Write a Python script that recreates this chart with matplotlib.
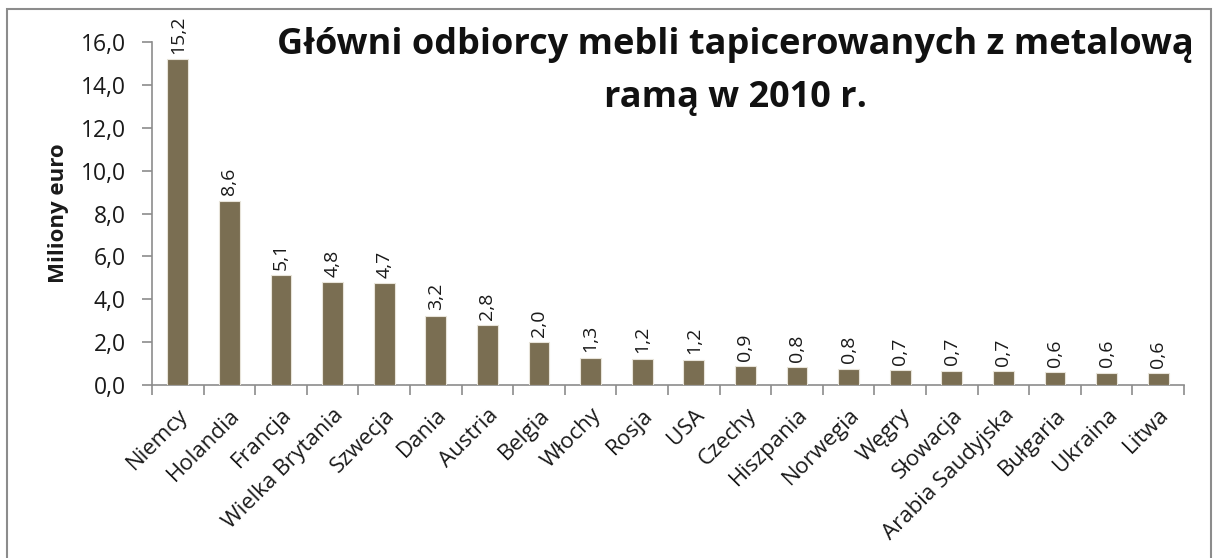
import matplotlib
matplotlib.use("Agg")
import matplotlib.pyplot as plt
from matplotlib.patches import Rectangle
import numpy as np

countries = ["Niemcy", "Holandia", "Francja", "Wielka Brytania", "Szwecja", "Dania",
             "Austria", "Belgia", "Włochy", "Rosja", "USA", "Czechy", "Hiszpania",
             "Norwegia", "Węgry", "Słowacja", "Arabia Saudyjska", "Bułgaria",
             "Ukraina", "Litwa"]
values = [15.2, 8.6, 5.13, 4.8, 4.74, 3.24, 2.8, 2.0, 1.28, 1.22, 1.18, 0.87, 0.82,
          0.76, 0.7, 0.66, 0.65, 0.6, 0.58, 0.56]
yticks = [0, 2, 4, 6, 8, 10, 12, 14, 16]

title_lines = ["Główni odbiorcy mebli tapicerowanych z metalową", "ramą w 2010 r."]
ylabel = "Miliony euro"

font = "Open Sans"
W, H = 1213, 558
fig = plt.figure(figsize=(W / 100, H / 100), dpi=100)
fig.patch.set_facecolor("white")

# chart border
fig.add_artist(Rectangle((7 / W, -0.05), (1211 - 7) / W, 1.05 - 9 / H,
                         transform=fig.transFigure, fill=False,
                         edgecolor="#8c8c8c", linewidth=1.5))

left, right = 152 / W, 1184 / W
bottom, top = 1 - 385 / H, 1 - 42 / H
ax = fig.add_axes([left, bottom, right - left, top - bottom])

x = np.arange(len(countries))
ax.bar(x, values, width=0.4, color="#7a6e52", edgecolor="#e8e4da", linewidth=0.8, zorder=3)

for xi, v in zip(x, values):
    ax.text(xi, v + 0.25, f"{v:.1f}".replace(".", ","), rotation=90, ha="center",
            va="bottom", fontsize=14, family=font, color="#1a1a1a")

ax.set_xlim(-0.5, len(countries) - 0.5)
ax.set_ylim(0, 16)
ax.set_yticks(yticks)
ax.set_yticklabels([f"{t:.1f}".replace(".", ",") for t in yticks], fontsize=16.5,
                   family=font, color="#1a1a1a")
ax.set_xticks(x)
ax.set_xticklabels(countries, rotation=45, ha="right", rotation_mode="anchor",
                   fontsize=16, family=font, color="#1a1a1a")
ax.tick_params(axis="x", length=0, pad=14)
ax.set_xticks(np.arange(len(countries) + 1) - 0.5, minor=True)
ax.tick_params(axis="x", which="minor", length=7, color="#8c8c8c", width=1.2)
ax.tick_params(axis="y", length=7, color="#8c8c8c", width=1.2, pad=12)

for s in ["top", "right"]:
    ax.spines[s].set_visible(False)
for s in ["left", "bottom"]:
    ax.spines[s].set_color("#8c8c8c")
    ax.spines[s].set_linewidth(1.2)

ax.set_ylabel(ylabel, fontsize=16, fontweight="bold", family=font, labelpad=8,
              color="#1a1a1a")

fig.text(735 / W, 1 - 45 / H, title_lines[0], ha="center", va="center", fontsize=26,
         fontweight="bold", family=font, color="#111111")
fig.text(735 / W, 1 - 98 / H, title_lines[1], ha="center", va="center", fontsize=26,
         fontweight="bold", family=font, color="#111111")

fig.savefig("out.png", dpi=100, facecolor="white")
